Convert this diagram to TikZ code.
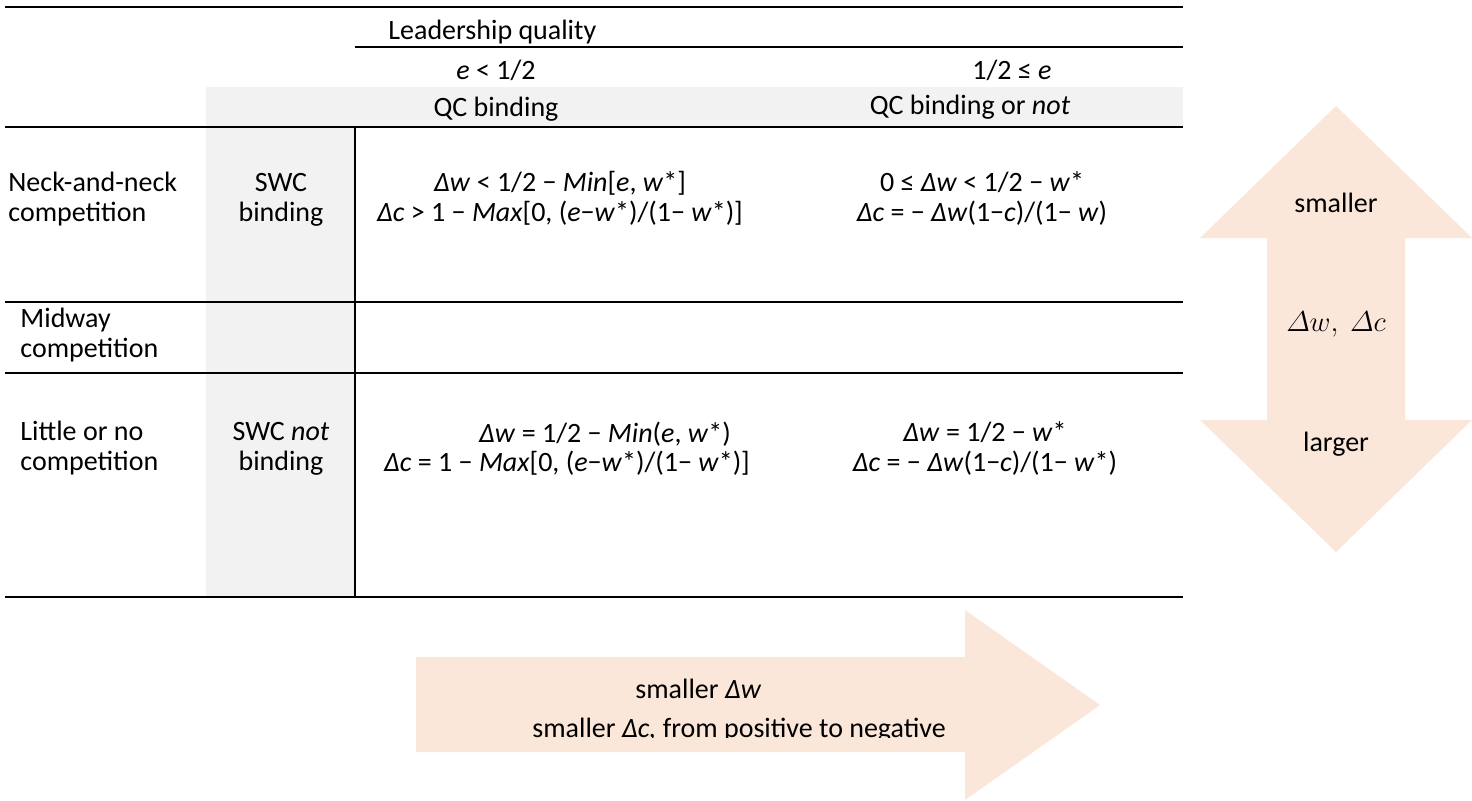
\documentclass[tikz,border=0pt]{standalone}
\usepackage{fontspec}
\usepackage{amsmath}
\setmainfont{Carlito}
\definecolor{arrowfill}{RGB}{251,231,217}
\definecolor{cellgray}{RGB}{242,242,242}
\tikzset{
	rule/.style={line width=1pt},
	txt/.style={inner sep=0pt,font=\fontsize{14}{14.6}\selectfont},
	lbl/.style={txt,anchor=base west,align=left},
	cell/.style={txt,anchor=base,align=center}
}

\begin{document}
\begin{tikzpicture}[x=0.5pt,y=-0.5pt]
		\useasboundingbox (0,0) rectangle (1472,800);

		% shaded header band and column
		\fill[cellgray] (206,87) rectangle (1183,127);
		\fill[cellgray] (206,127) rectangle (355,597);

		% big arrows
		\fill[arrowfill] (1336,106) -- (1472,238) -- (1405,238) -- (1405,420) -- (1472,420)
			-- (1336,552) -- (1200,420) -- (1267,420) -- (1267,238) -- (1200,238) -- cycle;
		\fill[arrowfill] (416,657) -- (965,657) -- (965,610) -- (1100,705) -- (965,800)
			-- (965,752) -- (416,752) -- cycle;

		% table rules
		\draw[rule] (5,7) -- (1183,7);
		\draw[rule] (355,47) -- (1183,47);
		\draw[rule] (5,127) -- (1183,127);
		\draw[rule] (5,302) -- (1183,302);
		\draw[rule] (5,373) -- (1183,373);
		\draw[rule] (5,597) -- (1183,597);
		\draw[rule] (355,127) -- (355,597);

		% header
		\node[lbl] (lead) at (388,39) {Leadership quality};
		\node[cell] (elow) at (496,79) {\textit{e} < 1/2};
		\node[cell] (ehigh) at (1012,79) {1/2 ≤ \textit{e}};
		\node[cell] (qc1) at (496,116) {QC binding};
		\node[cell] (qc2) at (970,114) {QC binding or \textit{not}};

		% row labels (base = last line)
		\node[lbl] (neck) at (8,221) {Neck-and-neck\\competition};
		\node[lbl] (mid) at (20,357) {Midway\\competition};
		\node[lbl] (little) at (20,470) {Little or no\\competition};
		\node[cell] (swc1) at (281,221) {SWC\\binding};
		\node[cell] (swc2) at (281,470) {SWC \textit{not}\\binding};

		% cells
		\node[cell] (f11) at (560,221) {\textit{Δw} < 1/2 − \textit{Min}[\textit{e}, \textit{w}*]\\
			\textit{Δc} > 1 − \textit{Max}[0, (\textit{e}−\textit{w}*)/(1− \textit{w}*)]};
		\node[cell] (f12) at (982,221) {0 ≤ \textit{Δw} < 1/2 − \textit{w}*\\
			\textit{Δc} = − \textit{Δw}(1−\textit{c})/(1− \textit{w})};
		\node[cell] (f21a) at (605,442) {\textit{Δw} = 1/2 − \textit{Min}(\textit{e}, \textit{w}*)};
		\node[cell] (f21b) at (567,471) {\textit{Δc} = 1 − \textit{Max}[0, (\textit{e}−\textit{w}*)/(1− \textit{w}*)]};
		\node[cell] (f22) at (985,471) {\textit{Δw} = 1/2 − \textit{w}*\\
			\textit{Δc} = − \textit{Δw}(1−\textit{c})/(1− \textit{w}*)};

		% arrow labels
		\node[cell] (small) at (1336,212) {smaller};
		\node[cell,font=\fontsize{15}{16}\selectfont] (dwdc) at (1336,331) {$\varDelta w,\ \varDelta c$};
		\node[cell] (large) at (1336,451) {larger};
		\node[lbl] (sw) at (635,698) {smaller \textit{Δw}};
		\begin{scope}
			\clip (416,657) rectangle (965,737);
			\node[lbl] (sc) at (532,737) {smaller \textit{Δc,} from positive to negative};
		\end{scope}
	\end{tikzpicture}
\end{document}
